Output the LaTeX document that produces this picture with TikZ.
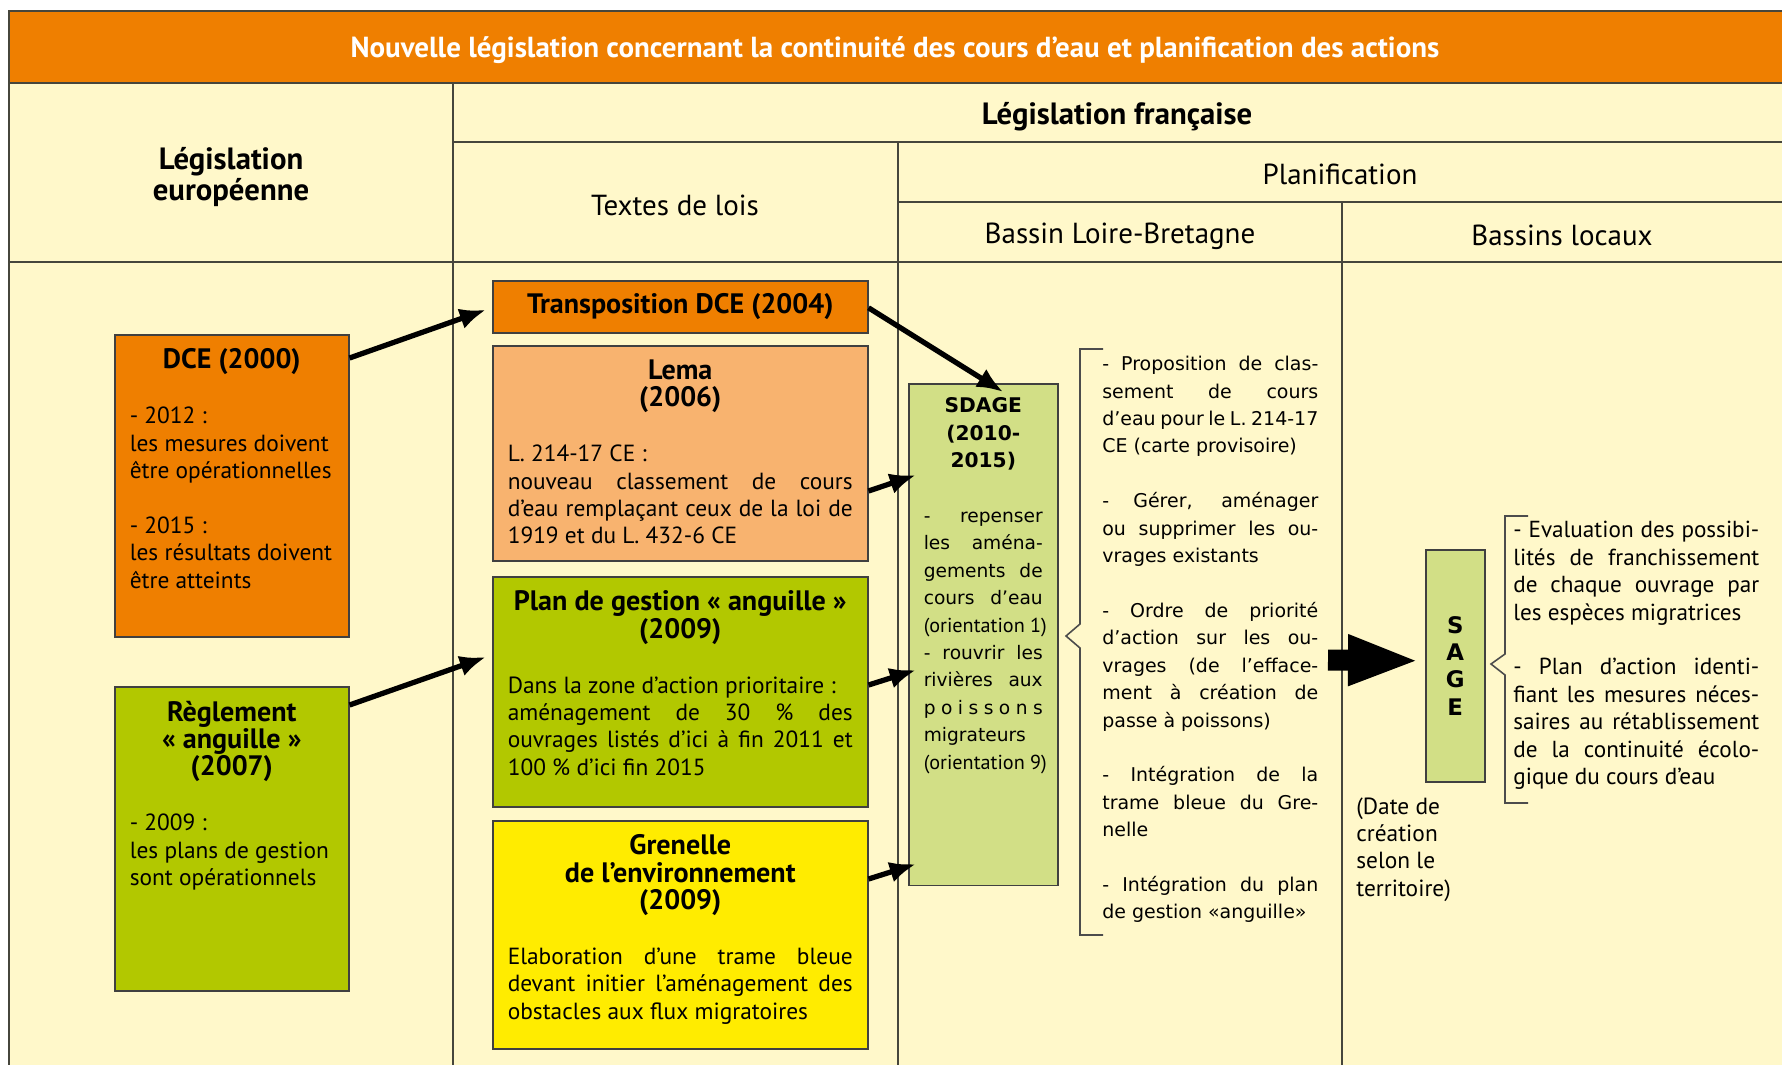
\documentclass[tikz,border=0pt]{standalone}
\usepackage{fontspec}
\setmainfont{PT Sans}
\newfontfamily\vfont{DejaVu Sans}
\usetikzlibrary{arrows.meta,positioning,calc}

\definecolor{headorange}{RGB}{239,127,0}
\definecolor{paleyellow}{RGB}{255,248,202}
\definecolor{lemaorange}{RGB}{248,179,111}
\definecolor{eelgreen}{RGB}{178,200,0}
\definecolor{grenyellow}{RGB}{255,236,0}
\definecolor{sdagegreen}{RGB}{210,223,134}
\definecolor{gridgray}{RGB}{70,70,60}

\newcommand{\bodyfont}{\fontsize{13.3}{15.6}\selectfont}
\newcommand{\gap}{\par\vspace{15.6pt}}
\newcommand{\boxtitle}[1]{{\centering\fontsize{16}{15.6}\selectfont\bfseries #1\par}\vspace{15.6pt}}
\newcommand{\boxfill}[3]{\parbox[t][#2][t]{#1}{\bodyfont #3}}
\newcommand{\orient}[1]{{\rmfamily\fontsize{11.5}{15.6}\selectfont\mbox{(orientation #1)}}}

\tikzset{
  grid line/.style={draw=gridgray, line width=1.1pt},
  law box/.style={draw=black!75, line width=0.9pt, anchor=north west, inner xsep=0.3cm, inner ysep=0.28cm},
  head text/.style={font=\fontsize{16.5}{18}\selectfont, align=center},
  head bold/.style={font=\fontsize{17.5}{18}\selectfont\bfseries, align=center},
  link/.style={-{Latex[length=15pt,width=12pt]}, line width=3pt, black},
  bracket/.style={draw=black!70, line width=0.9pt},
  side text/.style={anchor=north west, inner sep=0pt, align=justify},
}

\begin{document}
\begin{tikzpicture}[x=0.02cm,y=-0.02cm,line join=miter]
\useasboundingbox (0,0) rectangle (1782,1065);

% table frame
\fill[paleyellow] (9,83) rectangle (1782,1065);
\fill[headorange] (9,11) rectangle (1782,83);
\draw[grid line] (1782,11) -- (9,11) -- (9,1065);
\draw[grid line] (9,83) -- (1782,83);
\draw[grid line] (453,142) -- (1782,142);
\draw[grid line] (898,202) -- (1782,202);
\draw[grid line] (9,262) -- (1782,262);
\draw[grid line] (453,83) -- (453,1065);
\draw[grid line] (898,142) -- (898,1065);
\draw[grid line] (1342,202) -- (1342,1065);

% headings
\node[font=\fontsize{16.5}{18}\selectfont\bfseries, text=white] (title) at (895,50)
  {Nouvelle législation concernant la continuité des cours d’eau et planification des actions};
\node[head bold] (eulaw) at (231,177) {Législation\\européenne};
\node[head bold] (frlaw) at (1117,117) {Législation française};
\node[head text] (texts) at (675,205) {Textes de lois};
\node[head text] (planif) at (1340,174) {Planification};
\node[head text] (loire) at (1120,236) {Bassin Loire-Bretagne};
\node[head text] (local) at (1562,235) {Bassins locaux};

% law boxes
\node[law box, fill=headorange] (dce) at (114,334)
  {\boxfill{4.08cm}{5.48cm}{\boxtitle{DCE (2000)}\raggedright
   - 2012 :\\ les mesures doivent\\ être opérationnelles\\[15.6pt]
   - 2015 :\\ les résultats doivent\\ être atteints}};
\node[law box, fill=eelgreen] (regl) at (114,686)
  {\boxfill{4.08cm}{5.52cm}{\boxtitle{Règlement\\«~anguille~»\\(2007)}\raggedright
   - 2009 :\\ les plans de gestion\\ sont opérationnels}};
\node[law box, fill=headorange, minimum width=7.5cm, minimum height=1.04cm, inner sep=0pt,
  font=\fontsize{16}{15.6}\selectfont\bfseries] (trans) at (492,280) {Transposition DCE (2004)};
\node[law box, fill=lemaorange] (lema) at (492,345)
  {\boxfill{6.9cm}{3.74cm}{\boxtitle{Lema\\(2006)}
   L. 214-17 CE :\\ nouveau classement de cours\linebreak
   d’eau remplaçant ceux de la loi de\linebreak 1919 et du L. 432-6 CE}};
\node[law box, fill=eelgreen] (plan) at (492,576)
  {\boxfill{6.9cm}{4.04cm}{\boxtitle{Plan de gestion «~anguille~»\\(2009)}
   Dans la zone d’action prioritaire :\\ aménagement de 30~\% des\linebreak
   ouvrages listés d’ici à fin 2011 et\linebreak 100~\% d’ici fin 2015}};
\node[law box, fill=grenyellow] (gren) at (492,820)
  {\boxfill{6.9cm}{4.0cm}{\boxtitle{Grenelle\\de l’environnement\\(2009)}
   Elaboration d’une trame bleue\linebreak devant initier l’aménagement des\linebreak
   obstacles aux flux migratoires}};

% planning boxes
\node[law box, fill=sdagegreen] (sdage) at (908,383)
  {\parbox[t][9.48cm][t]{2.38cm}{\vfont
   {\centering\fontsize{11.5}{15.6}\selectfont\bfseries SDAGE\\(2010-\\2015)\par}\vspace{15.6pt}
   \fontsize{10.6}{15.6}\selectfont
   -\hfill repenser\\ les aména-\linebreak gements de\linebreak cours d’eau\linebreak
   \orient{1}\\
   - rouvrir les\linebreak rivières aux\linebreak p\hfill o\hfill i\hfill s\hfill s\hfill o\hfill n\hfill s\\
   migrateurs\\ \orient{9}}};
\node[law box, fill=sdagegreen, minimum width=1.18cm, minimum height=4.64cm, inner sep=0pt,
  align=center, font=\vfont\fontsize{13}{15.6}\selectfont\bfseries] (sage) at (1425,549) {S\\A\\G\\E};

% arrows
\draw[link] ($(dce.north east)+(0,24)$) -- ($(trans.west)+(-6,3)$);
\draw[link] ($(regl.north east)+(0,19)$) -- ($(plan.north west)+(-6,81)$);
\draw[link] ($(trans.east)+(0,1)$) -- ($(sdage.north)+(20,9)$);
\draw[link] ($(lema.north east)+(0,146)$) -- ($(sdage.north west)+(8,92)$);
\draw[link] ($(plan.north east)+(0,109)$) -- ($(sdage.north west)+(8,287)$);
\draw[link] ($(gren.north east)+(0,59)$) -- ($(sdage.north west)+(8,481)$);
\coordinate (bigtail) at (1328,660);
\draw[-{Triangle[length=1.44cm,width=0.92cm]}, line width=0.42cm] (bigtail) -- ($(sage.west)+(-5,-5)$);

% braces
\draw[bracket] (1103,349) -- (1080,349) -- (1080,624) -- (1066,636) -- (1080,648) -- (1080,935) -- (1103,935);
\draw[bracket] (1528,516) -- (1505,516) -- (1505,654) -- (1491,664) -- (1505,675) -- (1505,803) -- (1528,803);

% brace texts
\node[side text, text width=4.32cm, font=\vfont\fontsize{10.8}{15.6}\selectfont] (sdagetxt) at (1102,356)
  {- Proposition de clas-\linebreak sement de cours\linebreak d’eau pour le L. 214-17\linebreak CE (carte provisoire)\gap
   - Gérer, aménager\linebreak ou supprimer les ou-\linebreak vrages existants\gap
   - Ordre de priorité\linebreak d’action sur les ou-\linebreak vrages (de l’efface-\linebreak ment à création de\linebreak passe à poissons)\gap
   - Intégration de la\linebreak trame bleue du Gre-\linebreak nelle\gap
   - Intégration du plan\linebreak de gestion «anguille»};
\node[side text, text width=4.92cm, font=\fontsize{13.2}{15.6}\selectfont] (sagetxt) at (1513,521)
  {- Evaluation des possibi-\linebreak lités de franchissement\linebreak de chaque ouvrage par\linebreak les espèces migratrices\gap
   - Plan d’action identi-\linebreak fiant les mesures néces-\linebreak saires au rétablissement\linebreak de la continuité écolo-\linebreak gique du cours d’eau};
\node[anchor=north west, inner sep=0pt, align=left, font=\fontsize{13.3}{15.6}\selectfont] (sagedate) at (1356,797)
  {(Date de\\création\\selon le\\territoire)};

\end{tikzpicture}
\end{document}
